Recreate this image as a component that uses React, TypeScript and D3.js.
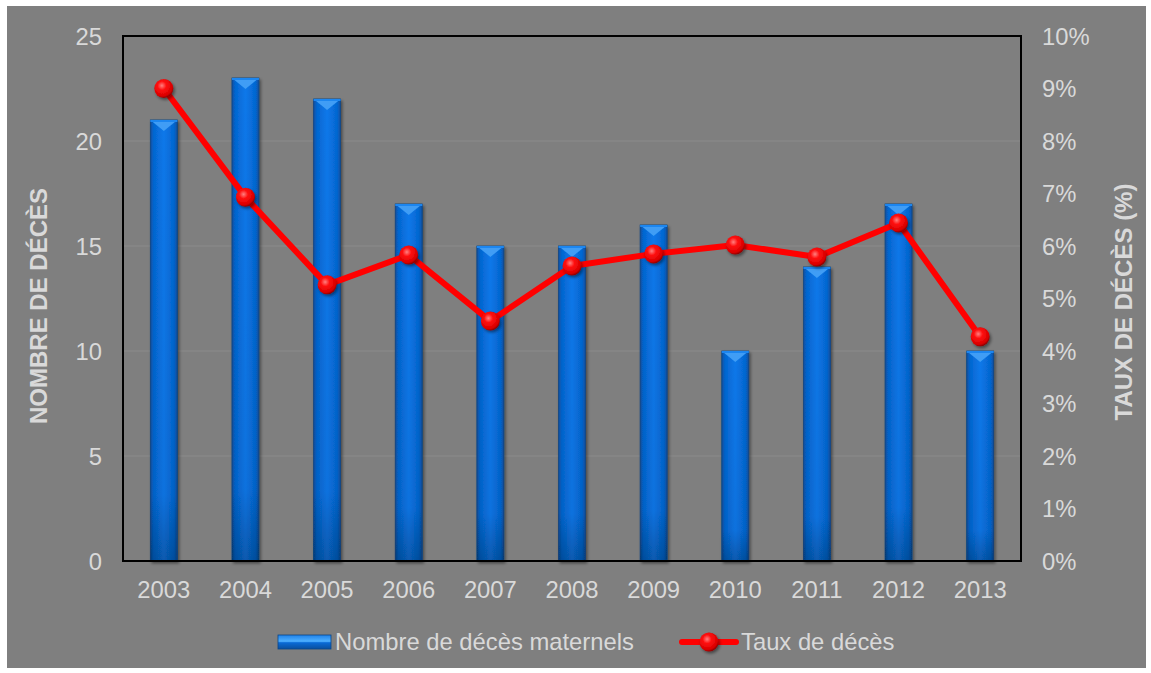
import React from "react";
import * as d3 from "d3";

// données
const years = ["2003", "2004", "2005", "2006", "2007", "2008", "2009", "2010", "2011", "2012", "2013"];
const deces = [21, 23, 22, 17, 15, 15, 16, 10, 14, 17, 10];
const taux = [0.09, 0.0693, 0.0526, 0.0583, 0.0457, 0.0562, 0.0585, 0.0602, 0.0579, 0.0644, 0.0427];
const leftTicks = [0, 5, 10, 15, 20, 25];
const rightTicks = [0, 0.01, 0.02, 0.03, 0.04, 0.05, 0.06, 0.07, 0.08, 0.09, 0.1];

const W = 1151;
const H = 673;
const plot = {left: 123, right: 1021, top: 36, bottom: 561};
const textColor = "#d9d9d9";
const font = "'Liberation Sans', Arial, sans-serif";
const fs = 23.8;

const App = () => {
    const x = d3.scaleBand().domain(years).range([plot.left, plot.right]).padding(0);
    const yL = d3.scaleLinear().domain([0, 25]).range([plot.bottom, plot.top]);
    const yR = d3.scaleLinear().domain([0, 0.1]).range([plot.bottom, plot.top]);
    const barW = x.bandwidth() * 0.33;
    const cx = (d: string) => (x(d) as number) + x.bandwidth() / 2;

    const line = d3.line<number>()
        .x((_, i) => cx(years[i]))
        .y(v => yR(v));

    return (
        <svg width={W} height={H} style={{position: "absolute", left: 0, top: 0}} fontFamily={font}>
            <defs>
                <linearGradient id="barGrad" x1="0" x2="1" y1="0" y2="0">
                    <stop offset="0" stopColor="#0a4f9e"/>
                    <stop offset="0.12" stopColor="#0566d0"/>
                    <stop offset="0.5" stopColor="#0a78ea"/>
                    <stop offset="0.88" stopColor="#0566d0"/>
                    <stop offset="1" stopColor="#0a4f9e"/>
                </linearGradient>
                <linearGradient id="barShade" x1="0" x2="0" y1="0" y2="1">
                    <stop offset="0" stopColor="#000" stopOpacity="0"/>
                    <stop offset="0.85" stopColor="#000" stopOpacity="0.05"/>
                    <stop offset="1" stopColor="#000" stopOpacity="0.25"/>
                </linearGradient>
                <linearGradient id="legBar" x1="0" x2="0" y1="0" y2="1">
                    <stop offset="0" stopColor="#1f82ea"/>
                    <stop offset="0.45" stopColor="#4fb0ff"/>
                    <stop offset="0.55" stopColor="#0a6ad6"/>
                    <stop offset="1" stopColor="#0a4f9e"/>
                </linearGradient>
                <radialGradient id="ball" cx="0.4" cy="0.35" r="0.65">
                    <stop offset="0" stopColor="#ff8080"/>
                    <stop offset="0.35" stopColor="#ff1010"/>
                    <stop offset="0.85" stopColor="#d80000"/>
                    <stop offset="1" stopColor="#900000"/>
                </radialGradient>
                <filter id="shadow" x="-50%" y="-50%" width="200%" height="200%">
                    <feDropShadow dx="1.5" dy="2" stdDeviation="1.5" floodColor="#000" floodOpacity="0.45"/>
                </filter>
            </defs>

            <rect x={7} y={6} width={1139} height={662} fill="#7f7f7f"/>

            {/* grille */}
            {leftTicks.slice(1, -1).map(t => (
                <line key={t} x1={plot.left} x2={plot.right} y1={yL(t)} y2={yL(t)}
                      stroke="#8c8c8c" strokeWidth={1}/>
            ))}

            {/* barres */}
            {deces.map((v, i) => {
                const x0 = cx(years[i]) - barW / 2;
                const y0 = yL(v);
                const h = plot.bottom - y0;
                return (
                    <g key={years[i]} filter="url(#shadow)">
                        <rect x={x0} y={y0} width={barW} height={h} fill="url(#barGrad)"
                              stroke="#0a4688" strokeWidth={0.8}/>
                        <rect x={x0} y={y0} width={barW} height={h} fill="url(#barShade)"/>
                        <polygon points={`${x0},${y0} ${x0 + barW},${y0} ${x0 + barW / 2},${y0 + 11}`}
                                 fill="#3f9df5"/>
                        <rect x={x0} y={y0} width={barW} height={2} fill="#1b86f0"/>
                    </g>
                );
            })}

            {/* cadre */}
            <rect x={plot.left} y={plot.top} width={plot.right - plot.left} height={plot.bottom - plot.top}
                  fill="none" stroke="#000" strokeWidth={2}/>

            {/* ligne */}
            <path d={line(taux) || ""} fill="none" stroke="#ff0000" strokeWidth={6} strokeLinejoin="round"/>
            {taux.map((v, i) => (
                <circle key={years[i]} cx={cx(years[i])} cy={yR(v)} r={9.5} fill="url(#ball)" filter="url(#shadow)"/>
            ))}

            {/* axes */}
            {leftTicks.map(t => (
                <text key={t} x={102} y={yL(t)} dy="0.36em" textAnchor="end" fontSize={fs} fill={textColor}>{t}</text>
            ))}
            {rightTicks.map(t => (
                <text key={t} x={1042} y={yR(t)} dy="0.36em" textAnchor="start" fontSize={fs} fill={textColor}>
                    {d3.format(".0%")(t)}
                </text>
            ))}
            {years.map(y => (
                <text key={y} x={cx(y)} y={598} textAnchor="middle" fontSize={fs} fill={textColor}>{y}</text>
            ))}

            <text transform="translate(47,306) rotate(-90)" textAnchor="middle" fontSize={24} fontWeight="bold"
                  fill={textColor}>NOMBRE DE DÉCÈS</text>
            <text transform="translate(1132,302) rotate(-90)" textAnchor="middle" fontSize={24} fontWeight="bold"
                  fill={textColor}>TAUX DE DÉCÈS (%)</text>

            {/* légende */}
            <g>
                <rect x={278} y={635} width={53} height={14} fill="url(#legBar)" stroke="#0a4688" strokeWidth={0.8}/>
                <text x={335} y={650} fontSize={fs} fill={textColor}>Nombre de décès maternels</text>
                <line x1={682} x2={736} y1={642} y2={642} stroke="#ff0000" strokeWidth={6} strokeLinecap="round"/>
                <circle cx={709} cy={642} r={9.5} fill="url(#ball)" filter="url(#shadow)"/>
                <text x={741} y={650} fontSize={fs} fill={textColor}>Taux de décès</text>
            </g>
        </svg>
    );
};

export default App;
